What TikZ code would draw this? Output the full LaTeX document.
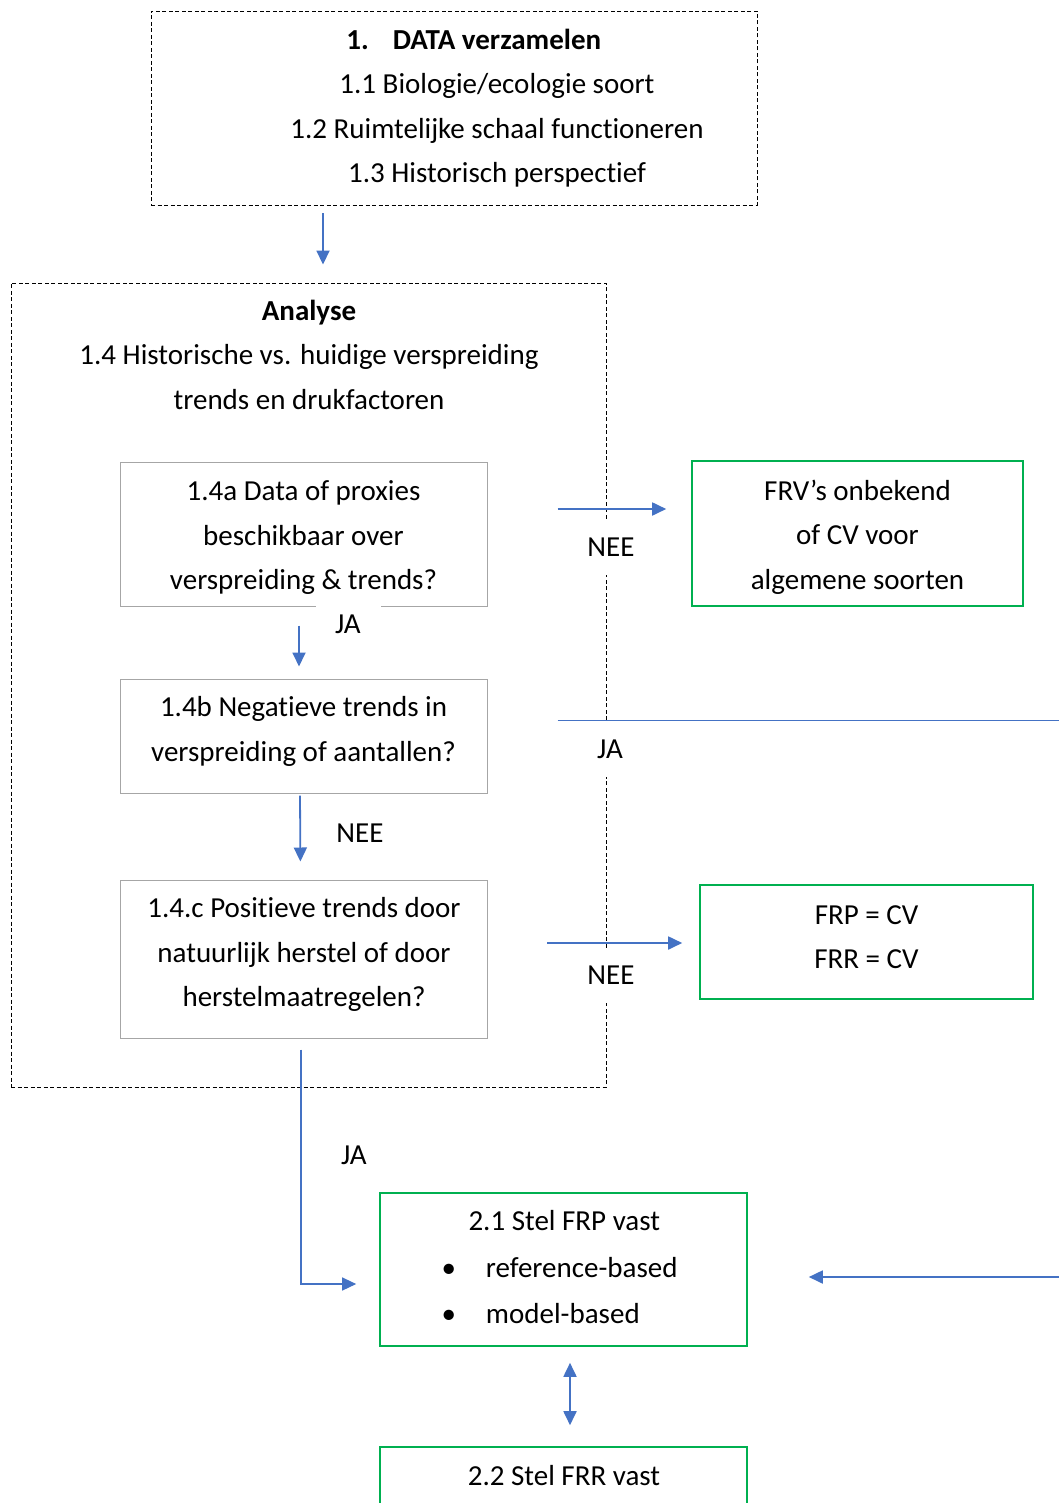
\documentclass[tikz,border=0pt]{standalone}
\usepackage{fontspec}
\setmainfont{Carlito}[Ligatures={NoCommon,NoContextual},Contextuals=NoAlternate]
\usetikzlibrary{arrows.meta}
\definecolor{arrblue}{HTML}{4472C4}
\definecolor{okgreen}{HTML}{00B050}
\definecolor{qgray}{HTML}{A6A6A6}
\newcommand{\strutup}[1]{\rule{0pt}{#1}}
\newcommand{\strutdn}[1]{\rule[-#1]{0pt}{#1}}

\begin{document}
\begin{tikzpicture}[x=1pt,y=-1pt,
	every node/.style={font=\fontsize{29}{44.5}\selectfont, align=center},
	dashbox/.style={draw=black, line width=0.9pt, dash pattern=on 4pt off 2.5pt},
	qbox/.style={draw=qgray, line width=1pt, minimum width=367, inner sep=0pt},
	okbox/.style={draw=okgreen, line width=1.6pt, inner sep=0pt},
	lbl/.style={fill=white, minimum width=65, minimum height=55, inner sep=0pt},
	arr/.style={draw=arrblue, line width=1.8pt, -{Triangle[length=14pt,width=13pt]}},
	>=Triangle]
		\useasboundingbox (0,0) rectangle (1058,1503);
		\node[dashbox, minimum width=606, minimum height=194] (data) at (454,108) {};
		\node (datatxt) at (497,108) {\textbf{\llap{1.\hspace{24pt}}DATA verzamelen}\\1.1 Biologie/ecologie soort\\1.2 Ruimtelijke schaal functioneren\\1.3 Historisch perspectief};
		\node[dashbox, minimum width=595, minimum height=804] (analyse) at (308.5,685) {};
		\node (analysetxt) at (309,354.5) {\textbf{Analyse}\\1.4 Historische vs. huidige verspreiding\\trends en drukfactoren};
		\node[qbox, minimum height=144] (q1) at (303.5,534) {\strutup{27pt}1.4a Data of proxies\\beschikbaar over\\verspreiding \& trends?};
		\node[okbox, minimum width=331, minimum height=145] (frv) at (857.5,533.5) {\strutup{27pt}FRV’s onbekend\\of CV voor\\algemene soorten};
		\node[qbox, minimum height=114] (q2) at (303.5,736) {1.4b Negatieve trends in\\verspreiding of aantallen?\strutdn{14pt}};
		\node[qbox, minimum height=158] (q3) at (304,959) {1.4.c Positieve trends door\\natuurlijk herstel of door\\herstelmaatregelen?\strutdn{14pt}};
		\node[okbox, minimum width=333, minimum height=114] (frp) at (866.5,942) {FRP = CV\\FRR = CV\strutdn{10pt}};
		\node[okbox, minimum width=367, minimum height=153] (fix21) at (563.5,1269.5) {};
		\node[anchor=west, align=left, font=\fontsize{29}{46.5}\selectfont] (fix21txt) at (438,1267.5) {\hspace*{27pt}2.1 Stel FRP vast\\\textbullet\hspace{30pt}reference-based\\\textbullet\hspace{30pt}model-based};
		\node[okbox, minimum width=367, minimum height=120] (fix22) at (563.5,1507) {};
		\node (fix22txt) at (564,1476) {2.2 Stel FRR vast};
		\coordinate (offtop) at (1070,720);
		\coordinate (offbot) at (1070,1277);
		\node[lbl] (nee1) at (611,547) {NEE};
		\node[lbl] (ja1) at (348,624) {JA};
		\node[lbl] (ja2) at (610,749) {JA};
		\node[lbl] (nee2) at (360,833) {NEE};
		\node[lbl] (nee3) at (611,975) {NEE};
		\node[lbl] (ja3) at (354,1155) {JA};
		\draw[arr, shorten <=8pt, shorten >=18pt] ([xshift=-131pt]data.south) -- ([xshift=-131pt]data.south |- analyse.north);
		\draw[arr, shorten <=70pt, shorten >=25pt] ([yshift=25pt]q1.east) -- ([yshift=25pt]q1.east -| frv.west);
		\draw[arr, shorten <=19pt, shorten >=12pt] ([xshift=-4.5pt]q1.south) -- ([xshift=-4.5pt]q2.north);
		\draw[draw=arrblue, line width=1pt, shorten <=70pt] ([yshift=16pt]q2.east) -- (offtop);
		\draw[arr, shorten <=2pt, shorten >=18pt] ([xshift=-3.5pt]q2.south) -- ([xshift=-3.5pt]q3.north);
		\draw[arr, shorten <=59pt, shorten >=17pt] ([yshift=16pt]q3.east) -- ([yshift=16pt]q3.east -| frp.west);
		\draw[arr, line width=1.3pt, shorten <=11pt, shorten >=23pt] ([xshift=-3pt]q3.south) |- ([yshift=-14.5pt]fix21.west);
		\draw[arr, shorten >=61pt] (offbot) -- ([yshift=-7.5pt]fix21.east);
		\draw[arr, {Triangle[length=14pt,width=13pt]}-{Triangle[length=14pt,width=13pt]}, shorten <=16pt, shorten >=21pt] ([xshift=6.5pt]fix21.south) -- ([xshift=6.5pt]fix22.north);
	\end{tikzpicture}
\end{document}
